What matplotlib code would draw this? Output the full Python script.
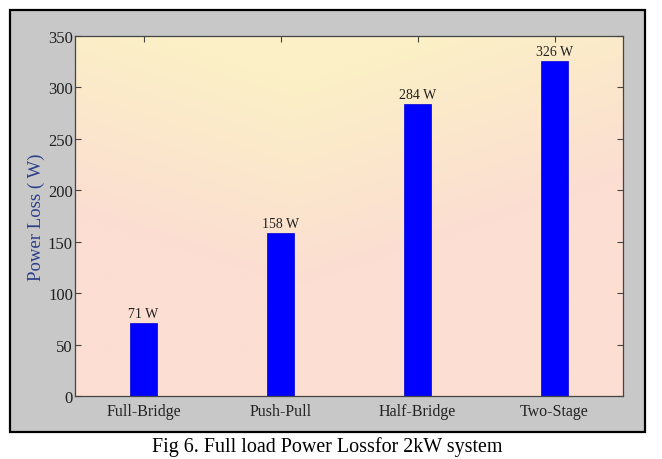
import numpy as np
import matplotlib.pyplot as plt
from matplotlib.patches import Rectangle

topologies = ['Full-Bridge', 'Push-Pull', 'Half-Bridge', 'Two-Stage']
power_loss = [71, 158, 284, 326]
value_labels = ['71 W', '158 W', '284 W', '326 W']
y_ticks = [0, 50, 100, 150, 200, 250, 300, 350]

plt.rcParams['font.family'] = ['Liberation Serif', 'DejaVu Serif']

fig = plt.figure(figsize=(6.62, 4.6), dpi=100)
fig.patch.set_facecolor('white')

# grey frame of the exported MATLAB figure
fig.patches.append(Rectangle((10 / 662, 1 - 433 / 460), 635 / 662, 422 / 460,
                             transform=fig.transFigure, facecolor='#c8c8c8',
                             edgecolor='black', lw=1.6, zorder=-5))

ax = fig.add_axes([75 / 662, 1 - 397 / 460, 548 / 662, 360 / 460])

# soft pink / yellow gradient background
gx, gy = np.meshgrid(np.linspace(0, 1, 200), np.linspace(0, 1, 200))
w = np.clip(1.8 * (gy - 0.5) - 0.9 * np.abs(gx - 0.4) + 0.35, 0, 1)
pink = np.array([252, 222, 210]) / 255
yellow = np.array([251, 240, 198]) / 255
img = pink[None, None, :] * (1 - w[..., None]) + yellow[None, None, :] * w[..., None]
ax.imshow(img, extent=[0.5, 4.5, 0, 350], origin='lower', aspect='auto', zorder=0)

x = np.arange(1, len(topologies) + 1)
ax.bar(x, power_loss, width=0.2, color='#0000ff', edgecolor='#0000cc', lw=0.5, zorder=2)
for xi, v, lab in zip(x, power_loss, value_labels):
    ax.text(xi, v + 3, lab, ha='center', va='bottom', fontsize=10, color='#222222')

ax.set_xlim(0.5, 4.5)
ax.set_ylim(0, 350)
ax.set_xticks(x)
ax.set_xticklabels(topologies, fontsize=11.5, color='#222222')
ax.set_yticks(y_ticks)
ax.set_yticklabels([str(t) for t in y_ticks], fontsize=12, color='#222222')
ax.tick_params(direction='in', top=True, right=True, length=4, width=0.8,
               color='#444444', pad=1.5)
ax.tick_params(axis='x', pad=5)
for s in ax.spines.values():
    s.set_color('#444444')
    s.set_linewidth(0.9)

ax.set_ylabel('Power Loss ( W)', fontsize=13.5, color='#2b3f8c', labelpad=2)

fig.text(327 / 662, 1 - 447 / 460, 'Fig 6. Full load Power Lossfor 2kW system',
         ha='center', va='center', fontsize=14.4, color='black')

fig.savefig('out.png', dpi=100)
